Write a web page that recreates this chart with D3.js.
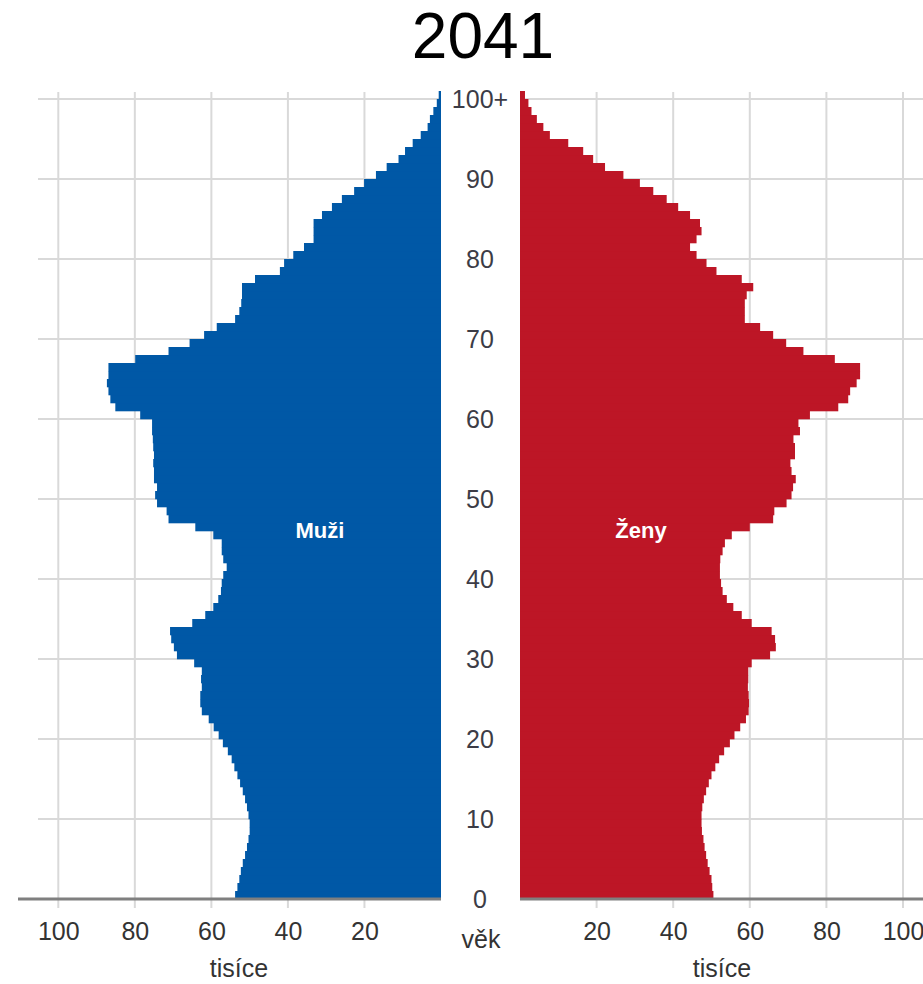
<!DOCTYPE html>
<html lang="cs">
<head>
<meta charset="utf-8">
<title>2041</title>
<script src="https://cdn.jsdelivr.net/npm/d3@7"></script>
<style>
  body { margin: 0; background: #fff; }
  svg { display: block; font-family: "Liberation Sans", Arial, sans-serif; }
  .grid line { stroke: #d9d9d9; stroke-width: 2; }
  .base { stroke: #7f7f7f; stroke-width: 3; }
  .axis text { font-size: 25px; fill: #333; font-family: "Liberation Sans", Arial, sans-serif; }
  .axis path, .axis line { display: none; }
  .age { font-size: 25px; fill: #3c3c46; }
  .sex { font-size: 22px; font-weight: bold; fill: #fff; }
</style>
</head>
<body>
<div id="chart"></div>
<script>
// data (thousands of people by single year of age, 2041 projection)
const ages = d3.range(0, 101);
const men = [
  53.8, 53.2, 52.7, 52.3, 51.8, 51.2, 50.7, 50.3, 50.0, 50.0,
  50.3, 50.7, 51.2, 51.8, 52.5, 53.2, 54.0, 54.7, 55.7, 57.0,
  58.1, 59.4, 60.7, 62.5, 62.9, 62.9, 62.5, 62.7, 62.5, 64.5,
  69.0, 69.8, 70.5, 70.8, 65.0, 61.6, 59.5, 58.2, 57.5, 57.3,
  56.9, 56.0, 56.9, 57.3, 57.3, 59.5, 64.2, 71.2, 71.7, 74.2,
  74.7, 74.2, 75.0, 75.0, 75.2, 75.0, 75.2, 75.3, 75.5, 75.5,
  78.6, 85.1, 86.4, 86.9, 87.3, 86.9, 86.9, 79.9, 71.2, 65.7,
  61.9, 58.6, 53.8, 52.7, 52.2, 52.0, 52.0, 48.6, 42.1, 41.0,
  38.6, 35.8, 33.3, 33.3, 33.3, 31.1, 28.5, 25.9, 22.7, 20.1,
  17.0, 14.2, 11.1, 9.4, 7.4, 5.3, 3.5, 2.9, 2.0, 1.1,
  0.6
];
const women = [
  50.5, 50.2, 50.0, 49.5, 49.0, 48.6, 48.2, 47.9, 47.5, 47.4,
  47.4, 47.6, 48.0, 48.6, 49.3, 50.0, 51.0, 52.0, 53.3, 54.8,
  56.0, 57.5, 59.0, 59.7, 59.8, 59.7, 59.5, 59.6, 59.6, 60.5,
  65.3, 66.8, 66.6, 65.7, 60.5, 57.9, 55.7, 54.0, 52.9, 52.5,
  52.2, 52.2, 52.3, 52.9, 53.5, 55.3, 60.0, 66.1, 66.4, 69.6,
  70.9, 71.3, 72.0, 70.9, 70.6, 71.8, 71.8, 71.4, 73.1, 72.7,
  75.7, 83.1, 85.7, 86.2, 87.9, 88.8, 88.8, 82.2, 74.0, 69.5,
  66.1, 62.7, 58.7, 58.7, 58.7, 59.2, 60.9, 57.9, 51.3, 48.7,
  46.1, 44.4, 46.1, 47.4, 47.0, 44.4, 41.3, 38.3, 34.8, 31.3,
  27.0, 22.2, 19.1, 16.5, 12.6, 7.8, 6.1, 4.4, 3.0, 2.2,
  1.3
];
const ageTicks = [0, 10, 20, 30, 40, 50, 60, 70, 80, 90, 100];
const ageLabels = ["0", "10", "20", "30", "40", "50", "60", "70", "80", "90", "100+"];
const valueTicks = [20, 40, 60, 80, 100];

const WIDTH = 923, HEIGHT = 984;

const svg = d3.select("#chart").append("svg")
  .attr("width", WIDTH)
  .attr("height", HEIGHT);

const xL = d3.scaleLinear().domain([0, 100]).range([441, 58.3]);
const xR = d3.scaleLinear().domain([0, 100]).range([520, 903]);
const y = d3.scaleBand().domain(ages).range([899, 91]).padding(0);
const bw = y.bandwidth();
const lineY = a => y(a) + bw; // grid line sits at the bottom of the age's bar

// title
svg.append("text")
  .attr("x", 483).attr("y", 58)
  .attr("text-anchor", "middle")
  .style("font-size", "64px")
  .text("2041");

// grid
const grid = svg.append("g").attr("class", "grid");
grid.selectAll(".vl").data(valueTicks).enter().append("line")
  .attr("x1", d => xL(d)).attr("x2", d => xL(d))
  .attr("y1", 92).attr("y2", 908);
grid.selectAll(".vr").data(valueTicks).enter().append("line")
  .attr("x1", d => xR(d)).attr("x2", d => xR(d))
  .attr("y1", 92).attr("y2", 908);
grid.selectAll(".hl").data(ageTicks.slice(1)).enter().append("line")
  .attr("x1", 38).attr("x2", xL(0))
  .attr("y1", d => lineY(d)).attr("y2", d => lineY(d));
grid.selectAll(".hr").data(ageTicks.slice(1)).enter().append("line")
  .attr("x1", xR(0)).attr("x2", WIDTH)
  .attr("y1", d => lineY(d)).attr("y2", d => lineY(d));

// bars
svg.append("g").selectAll("rect").data(ages).enter().append("rect")
  .attr("x", d => xL(men[d]))
  .attr("y", d => y(d))
  .attr("width", d => xL(0) - xL(men[d]))
  .attr("height", bw + 0.3)
  .attr("fill", "#0058a6");

svg.append("g").selectAll("rect").data(ages).enter().append("rect")
  .attr("x", xR(0))
  .attr("y", d => y(d))
  .attr("width", d => xR(women[d]) - xR(0))
  .attr("height", bw + 0.3)
  .attr("fill", "#bd1626");

// baselines
svg.append("line").attr("class", "base")
  .attr("x1", 18).attr("x2", xL(0))
  .attr("y1", lineY(0)).attr("y2", lineY(0));
svg.append("line").attr("class", "base")
  .attr("x1", xR(0)).attr("x2", WIDTH)
  .attr("y1", lineY(0)).attr("y2", lineY(0));

// value axes
svg.append("g").attr("class", "axis")
  .attr("transform", "translate(0,908)")
  .call(d3.axisBottom(xL).tickValues(valueTicks).tickSize(0).tickPadding(14));
svg.append("g").attr("class", "axis")
  .attr("transform", "translate(0,908)")
  .call(d3.axisBottom(xR).tickValues(valueTicks).tickSize(0).tickPadding(14));

// age labels
svg.append("g").selectAll("text").data(ageTicks).enter().append("text")
  .attr("class", "age")
  .attr("x", 480)
  .attr("y", d => lineY(d))
  .attr("dy", "0.35em")
  .attr("text-anchor", "middle")
  .text((d, i) => ageLabels[i]);

// axis titles
svg.append("text").attr("class", "age")
  .attr("x", 481).attr("y", 948).attr("text-anchor", "middle").style("fill", "#333")
  .text("věk");
svg.append("text").attr("class", "age")
  .attr("x", 239).attr("y", 977).attr("text-anchor", "middle").style("fill", "#333")
  .text("tisíce");
svg.append("text").attr("class", "age")
  .attr("x", 722).attr("y", 977).attr("text-anchor", "middle").style("fill", "#333")
  .text("tisíce");

// sex labels
svg.append("text").attr("class", "sex")
  .attr("x", 320).attr("y", 538).attr("text-anchor", "middle")
  .text("Muži");
svg.append("text").attr("class", "sex")
  .attr("x", 641).attr("y", 538).attr("text-anchor", "middle")
  .text("Ženy");
</script>
</body>
</html>
